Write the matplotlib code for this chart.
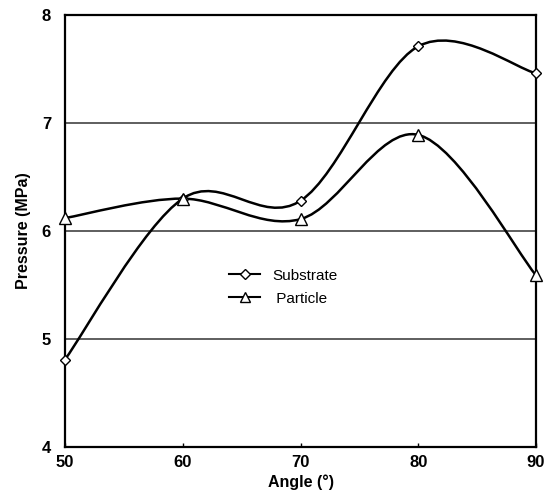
import numpy as np
import matplotlib.pyplot as plt
from matplotlib.path import Path
from matplotlib.patches import PathPatch
from matplotlib.lines import Line2D

# data
angles = [50, 60, 70, 80, 90]
substrate = [4.81, 6.30, 6.28, 7.71, 7.46]
particle = [6.12, 6.30, 6.11, 6.89, 5.59]


def smooth_path(x, y):
    """Excel-like smoothed line: cubic Bezier segments with Catmull-Rom control points."""
    pts = np.column_stack([x, y]).astype(float)
    ext = np.vstack([pts[0], pts, pts[-1]])
    verts = [pts[0]]
    codes = [Path.MOVETO]
    for i in range(1, len(ext) - 2):
        p0, p1, p2, p3 = ext[i - 1], ext[i], ext[i + 1], ext[i + 2]
        c1 = p1 + (p2 - p0) / 6.0
        c2 = p2 - (p3 - p1) / 6.0
        verts += [c1, c2, p2]
        codes += [Path.CURVE4] * 3
    return Path(verts, codes)


plt.rcParams['font.family'] = ['Liberation Sans', 'DejaVu Sans']

fig = plt.figure(figsize=(5.48, 5.01), dpi=100)
ax = fig.add_axes([65 / 548, 1 - 447 / 501, 471 / 548, 432 / 501])

for vals, marker, ms in [(substrate, 'D', 5.5), (particle, '^', 8)]:
    ax.add_patch(PathPatch(smooth_path(angles, vals), facecolor='none',
                           edgecolor='black', lw=1.8, zorder=3))
    ax.plot(angles, vals, linestyle='none', marker=marker, ms=ms,
            markerfacecolor='white', markeredgecolor='black', mew=1.0,
            zorder=4, clip_on=False)

ax.set_xlim(50, 90)
ax.set_ylim(4, 8)
ax.set_xticks([50, 60, 70, 80, 90])
ax.set_yticks([4, 5, 6, 7, 8])
for yv in [5, 6, 7]:
    ax.axhline(yv, color='#333333', lw=1.1, zorder=1)

for s in ax.spines.values():
    s.set_linewidth(1.6)
ax.tick_params(axis='x', direction='in', length=3, width=1, pad=6,
               labelsize=12)
ax.tick_params(axis='y', length=0, pad=10, labelsize=12)
for lab in ax.get_xticklabels() + ax.get_yticklabels():
    lab.set_fontweight('bold')

ax.set_xlabel('Angle (°)', fontsize=11.5, fontweight='bold', labelpad=3)
ax.set_ylabel('Pressure (MPa)', fontsize=11.5, fontweight='bold', labelpad=8)

handles = [
    Line2D([], [], color='black', lw=1.5, marker='D', ms=5,
           markerfacecolor='white', markeredgecolor='black'),
    Line2D([], [], color='black', lw=1.5, marker='^', ms=7,
           markerfacecolor='white', markeredgecolor='black'),
]
ax.legend(handles, ['Substrate', ' Particle'], loc='upper left',
          bbox_to_anchor=(0.32, 0.445), frameon=False, fontsize=11,
          handlelength=2.0, handletextpad=0.8, labelspacing=0.6)

fig.savefig('out.png', dpi=100)
